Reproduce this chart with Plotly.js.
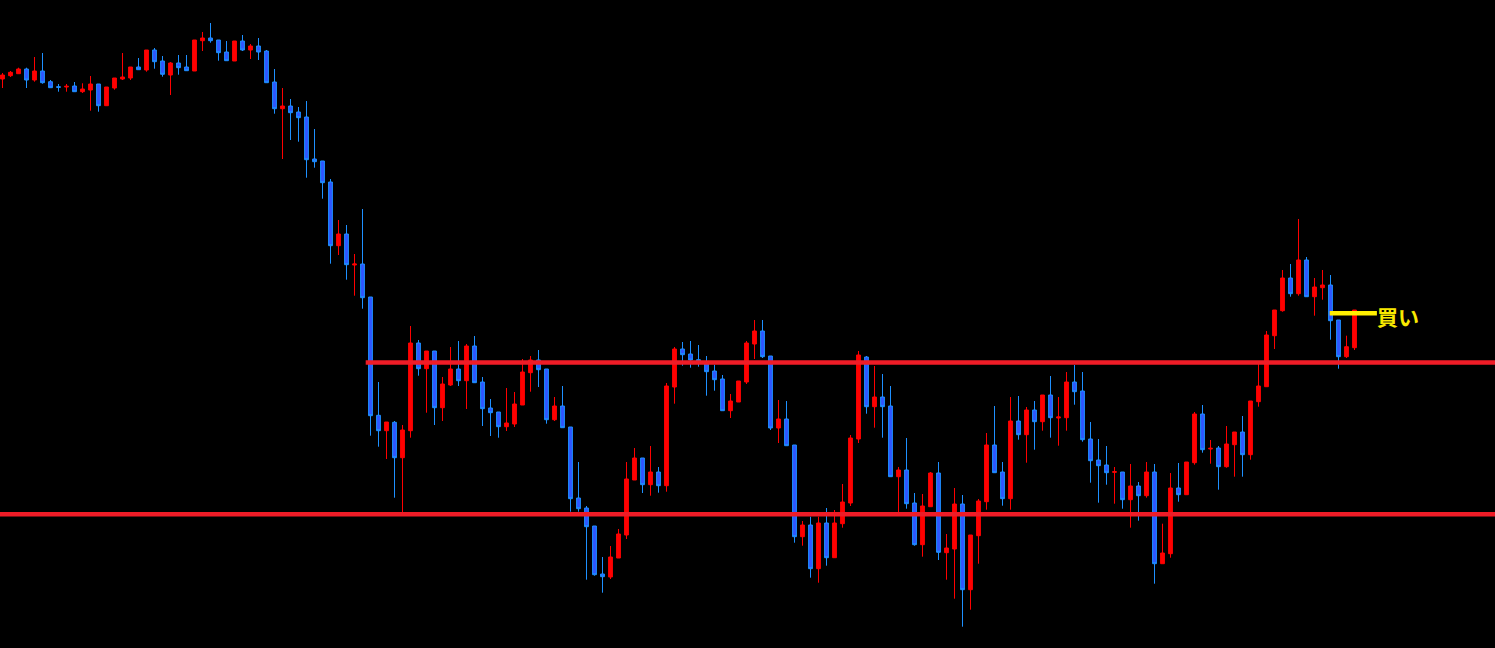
<!DOCTYPE html>
<html>
<head>
<meta charset="utf-8">
<script src="https://cdn.plot.ly/plotly-3.0.1.min.js"></script>
<style>
html,body{margin:0;padding:0;background:#000;overflow:hidden;}
#chart{width:1495px;height:648px;}
</style>
</head>
<body>
<div id="chart"></div>
<script>
// Values, in screen-depth units (0 = top, 648 = bottom).
const openD = [79,75.7,73.7,69,80,71,81.7,86.7,87,86,91.7,90,84,105.7,88,79,78,67,70,50,61,75,63,67,71,40.7,38,40,52,61,41,50,46,51,82,108.7,106,112,117,159,161,182,245.7,234,265,264,297,415.3,430.7,422.3,457.7,430.7,343,368.7,351,407.7,385,369,380.7,346,382,408,412,426.7,424,405,372.7,360,369,419.7,406,427,498,508,526,574,577,558,535,480,458,484.7,472,485.7,387,349,354,359.7,362,371,379,410.7,402,382,344,331,356,428,419,445,536.7,525,568.7,523,557.7,523.7,503,439,357,406.7,397,406,476.7,470,503,544.7,506.7,473,552.7,549,504,589.7,535.7,501.7,445,472,498.7,421,434.7,410,421.7,395,418,417.7,382,391,439,460,465,472.3,472,499.7,486,495.7,472,563.7,553.7,488,494.7,462.7,414,449,448,466.7,444.7,432,454.7,401.7,386.7,335.7,310.7,278,293.7,260,296.7,287.7,285,320,356.7,347.7];
const highD = [73,71,67.7,67.7,57,53,80,84,84,82,83.3,76,84,87,78,53,67,58,50,48,56,62,55,55,40,32,23,40,41,41,35,44,38,50,69,88,99,107,101,129,161,179,220,225,254,209,297,382,422,421,425,326,340,351,351,377,347,341,344,336,377,399,412,388,392,359,356,350,369,397,386,427,462,506,526,557,546,529,462,448,458,446,467,383,347,342,341,345,356,364.7,375,394,381,341,320,320,356,400,401,445,521,516.7,516.7,508,510,484,435,351,356,366,374,386,467,438,493,494,472,462,534,488,495,535,499,433,406,462,397,396,407,401,395,376,397,372,365,372,422,439,446,467,472,464,482,462,464,523.7,473,463,462,412,405,440,446,426,432,416,401,364,331,310,270,264,219,257,278,270,275,320,335.7,310];
const lowD = [88,77,73.7,88,81.7,83.7,87.7,91.7,91.7,91.7,93,110.7,111.7,105.7,89.7,80,80,69.7,71.7,68.7,76.7,95,74.7,71,71,51,42.7,60.7,60.7,61,51,59,60,82.7,113.7,159,140,141.7,177.7,167.7,198.7,263.7,255,279.7,295.7,308.7,435.7,446.7,459,497.7,512,437.7,375.7,412.7,425,421,386,386,409,382.7,426,436,437.7,431,427,405,391.7,387,423.7,421,427.7,511.7,511.7,579.7,575.7,592.7,579,558,539,480,493,495.7,492.7,491.7,403.7,365.7,367.7,366.7,395.7,390.7,410.7,418,402,384,359,358,430,443,445.7,542.7,545.7,577.7,582.7,565.7,557.7,527.7,506,443,413.7,427.7,437.7,476.7,512,508.7,545.7,556.7,506.7,560,579.7,598.7,626.7,609.7,563.7,509.7,472.7,505.7,509.7,439.7,462.7,449.7,430.7,437.7,445.7,430.7,404.7,441.7,482.7,502.7,484.7,503.7,508.7,527.7,520.7,497.7,583.7,563.7,557.7,501.7,494.7,464.7,452.7,463.7,489.7,467.7,476.7,476.7,459.7,406.7,386.7,349,311.7,296.7,295.7,296.7,315.7,299.7,339.7,368.7,358,350];
const closeD = [75,72.3,69,80,71,82.7,87.7,87.3,86.3,91.7,89,84,105.7,87,78,77,67,69.7,50,61.7,74.3,63,67.7,70.7,40,38,40.7,52.7,60.7,41,50,46,52,82.7,108.7,106,112.7,117.7,159.7,161.7,182.7,245.7,234,264.7,264,297.7,415.7,430.7,422,457.7,430,343,368.7,351,407.7,384,369,380.7,346,382.7,408.7,412.7,426.7,423,404,372,360,369.7,419.7,406,427.7,498.7,508.7,526.7,574.7,576.7,557,534,479,458,484.7,472,485.7,386,349,354.7,360,361.5,371.7,379.7,410.7,401,381,343,331,356.7,428,419,445.7,536.7,525,568.7,523,557.7,523,502,438,355,406.7,397,406.7,476.7,470,503.7,544.7,506,473,552.3,548,504,589.7,535,501,445,472.7,498.7,421,434.7,410,421.7,395,417.7,417,382,391.7,439.7,460.7,465.7,472.7,471.7,499.7,486,495.7,472,563.7,553,488,494.7,462,414,449.7,448.3,466.7,444,432,454.7,401,386,335,310,278,293.7,260,296.7,287,285,320.7,356.7,346.7,310];

// Levels (same depth units)
const resistanceDepth = 362.5;
const resistanceStartIndex = 45.4;
const supportDepth = 514.3;
const buyDepth = 313.3;
const buyStartIndex = 165.9;
const buyEndIndex = 171.8;
const buyLabel = '買い';

const H = 648;
const toPrice = d => H - d;
const idx = openD.map((_, i) => i);

const trace = {
  type: 'candlestick',
  x: idx,
  open: openD.map(toPrice),
  high: highD.map(toPrice),
  low: lowD.map(toPrice),
  close: closeD.map(toPrice),
  increasing: {line: {color: '#FF0000', width: 1}, fillcolor: '#FF0000'},
  decreasing: {line: {color: '#1E90FF', width: 1}, fillcolor: '#2F55FF'},
  whiskerwidth: 0,
  hoverinfo: 'skip'
};

const layout = {
  width: 1495, height: 648,
  margin: {l: 0, r: 0, t: 0, b: 0, pad: 0},
  paper_bgcolor: '#000', plot_bgcolor: '#000',
  showlegend: false,
  boxgap: 0.32,
  xaxis: {range: [-2.5/8, (1495-2.5)/8], visible: false, showgrid: false, zeroline: false, rangeslider: {visible: false}, fixedrange: true},
  yaxis: {range: [0, H], visible: false, showgrid: false, zeroline: false, fixedrange: true},
  shapes: [
    {type: 'line', xref: 'x', yref: 'y', x0: resistanceStartIndex, x1: 200, y0: toPrice(resistanceDepth), y1: toPrice(resistanceDepth), line: {color: '#EF1C27', width: 4.5}},
    {type: 'line', xref: 'paper', yref: 'y', x0: 0, x1: 1, y0: toPrice(supportDepth), y1: toPrice(supportDepth), line: {color: '#EF1C27', width: 4.5}},
    {type: 'line', xref: 'x', yref: 'y', x0: buyStartIndex, x1: buyEndIndex, y0: toPrice(buyDepth), y1: toPrice(buyDepth), line: {color: '#FFF000', width: 4.5}}
  ],
  annotations: [
    {x: buyEndIndex - 0.2, y: toPrice(buyDepth + 2.5), xref: 'x', yref: 'y', text: buyLabel, showarrow: false, xanchor: 'left', yanchor: 'middle',
     font: {family: 'Noto Sans CJK JP', size: 21, color: '#F8E800', weight: 'bold'}}
  ]
};

Plotly.newPlot('chart', [trace], layout, {staticPlot: true, displayModeBar: false});
</script>
</body>
</html>
